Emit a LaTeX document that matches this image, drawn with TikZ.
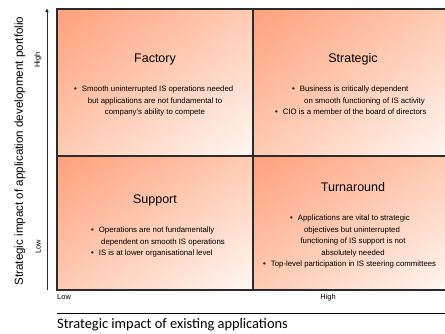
\documentclass[tikz,border=0pt]{standalone}
\usepackage{fontspec}
\usetikzlibrary{shadings,arrows.meta}
\setmainfont{Liberation Sans}
\newfontfamily\calib{Carlito}
\definecolor{cOr}{HTML}{FFA07C}
\definecolor{cMid}{HTML}{FFCBB3}
\definecolor{cWh}{HTML}{FFF7F3}
\definecolor{cLine}{HTML}{2B2B2B}
\begin{document}
\begin{tikzpicture}[x=1pt,y=-1pt,
  cell/.style={upper left=cOr,lower right=cWh,upper right=cMid,lower left=cMid},
  ttl/.style={font=\fontsize{12.5}{14}\selectfont,inner sep=0,anchor=base},
  bl/.style={font=\fontsize{7.8}{9}\selectfont,inner sep=0,anchor=base west},
  blc/.style={font=\fontsize{7.8}{9}\selectfont,inner sep=0,anchor=base},
  ax/.style={font=\fontsize{7.5}{8}\selectfont,inner sep=0}]
\useasboundingbox (0,0) rectangle (445,333);
\clip (0,0) rectangle (445,333);
% cells
\shade[cell] (57,9) rectangle (253,156);
\shade[cell] (253,9) rectangle (452,156);
\shade[cell] (57,156) rectangle (253,290);
\shade[cell] (253,156) rectangle (452,290);
\draw[cLine,line width=1.3pt] (57,9) rectangle (452,290);
\draw[cLine,line width=1.3pt] (253,9) -- (253,290);
\draw[cLine,line width=1.3pt] (57,156) -- (452,156);
% axes
\coordinate (ybot) at (47,290);
\coordinate (ytop) at (47,8);
\draw[cLine,line width=1pt,-{Latex[length=4pt,width=3.5pt]}] (ybot) -- (ytop);
\coordinate (xl) at (57,313);
\coordinate (xr) at (450,313);
\draw[black,line width=0.9pt] (xl) -- (xr);
\node[rotate=90,font=\fontsize{11.6}{13}\selectfont,inner sep=0] (ylab) at (20,151) {Strategic impact of application development portfolio};
\node[rotate=90,ax] (yhigh) at (38,60) {High};
\node[rotate=90,ax] (ylow) at (38,247) {Low};
\node[ax,anchor=west] (xlow) at (57,297) {Low};
\node[ax] (xhigh) at (328,298) {High};
\node[font=\calib\fontsize{14.4}{16}\selectfont,inner sep=0,anchor=west] (xlab) at (57,325) {Strategic impact of existing applications};
% titles
\node[ttl] (tF) at (155,62) {Factory};
\node[ttl] (tS) at (353,62) {Strategic};
\node[ttl] (tSu) at (155,203) {Support};
\node[ttl] (tT) at (353,191) {Turnaround};
% Factory
\node[bl] (f1) at (74,91.5) {\textbullet\hspace{5pt}Smooth uninterrupted IS operations needed};
\node[blc] (f2) at (155,103) {but applications are not fundamental to};
\node[blc] (f3) at (155,114.5) {company's ability to compete};
% Strategic
\node[bl] (s1) at (292,91.5) {\textbullet\hspace{5pt}Business is critically dependent};
\node[bl] (s2) at (304,103) {on smooth functioning of IS activity};
\node[bl] (s3) at (275,114.5) {\textbullet\hspace{5pt}CIO is a member of the board of directors};
% Support
\node[bl] (u1) at (91,232.5) {\textbullet\hspace{5pt}Operations are not fundamentally};
\node[bl] (u2) at (101,244) {dependent on smooth IS operations};
\node[bl] (u3) at (91,255.5) {\textbullet\hspace{5pt}IS is at lower organisational level};
% Turnaround
\node[bl] (r1) at (290,220.5) {\textbullet\hspace{5pt}Applications are vital to strategic};
\node[blc] (r2) at (352,232) {objectives but uninterrupted};
\node[blc] (r3) at (353,243.5) {functioning of IS support is not};
\node[blc] (r4) at (353,255) {absolutely needed};
\node[bl] (r5) at (263,266.5) {\textbullet\hspace{5pt}Top-level participation in IS steering committees};
\end{tikzpicture}
\end{document}
